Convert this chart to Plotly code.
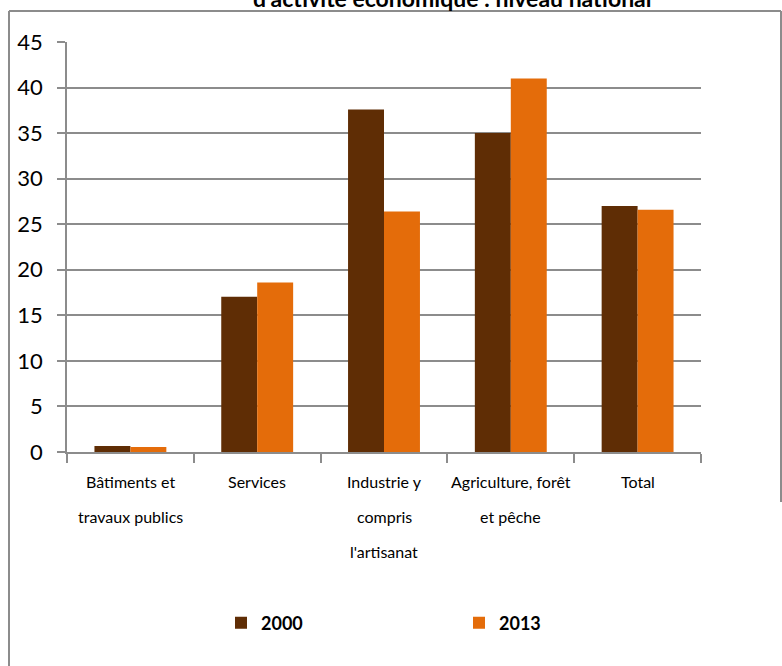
import plotly.graph_objects as go

categories = ["Bâtiments et<br>travaux publics", "Services", "Industrie y<br>compris<br>l'artisanat",
              "Agriculture, forêt<br>et pêche", "Total"]
series_names = ["2000", "2013"]
values_2000 = [0.66, 17.05, 37.6, 35.0, 27.0]
values_2013 = [0.55, 18.6, 26.4, 41.0, 26.6]
y_ticks = [0, 5, 10, 15, 20, 25, 30, 35, 40, 45]
title_text = "d'activité économique : niveau national"

colors = ["#5F2D05", "#E46C0A"]
W, H = 782, 666
L, R, T, B = 67, 701, 42, 452
FONT = "Lato"
GRID = "#8C8C8C"

fig = go.Figure()
for name, vals, col in zip(series_names, [values_2000, values_2013], colors):
    fig.add_trace(go.Bar(name=name, x=categories, y=vals, marker=dict(color=col, line=dict(width=0))))

def px_to_paper_x(px):
    return (px - L) / (R - L)

def px_to_paper_y(py):
    return (B - py) / (B - T)

annotations = []
for cat in categories:
    for i, line in enumerate(cat.split("<br>")):
        annotations.append(dict(x=cat, xref="x", y=0, yref="paper", yanchor="middle",
                                yshift=-(481 - B) - 35 * i, text=line, showarrow=False,
                                font=dict(family=FONT, size=16, color="#000")))
annotations.append(dict(x=px_to_paper_x(452), xref="paper", y=px_to_paper_y(-2), yref="paper",
                        yanchor="middle", text="<b>" + title_text + "</b>", showarrow=False,
                        font=dict(family=FONT, size=23, color="#000")))

shapes = [
    dict(type="line", xref="paper", yref="paper", x0=px_to_paper_x(9), x1=px_to_paper_x(9),
         y0=px_to_paper_y(11), y1=px_to_paper_y(670), line=dict(color=GRID, width=2)),
    dict(type="line", xref="paper", yref="paper", x0=px_to_paper_x(9), x1=px_to_paper_x(781),
         y0=px_to_paper_y(11), y1=px_to_paper_y(11), line=dict(color=GRID, width=2)),
    dict(type="line", xref="paper", yref="paper", x0=px_to_paper_x(781), x1=px_to_paper_x(781),
         y0=px_to_paper_y(11), y1=px_to_paper_y(502), line=dict(color=GRID, width=2)),
]

fig.update_layout(
    width=W, height=H, autosize=False,
    margin=dict(l=L, r=W - R, t=T, b=H - B, pad=0),
    paper_bgcolor="white", plot_bgcolor="white",
    barmode="group", bargap=0.433, bargroupgap=0,
    showlegend=True,
    legend=dict(orientation="h", xref="container", yref="container", x=221 / W, y=1 - 623 / H,
                xanchor="left", yanchor="middle", entrywidth=193, entrywidthmode="pixels",
                font=dict(family=FONT, size=18, color="#000", weight="bold"), traceorder="normal"),
    annotations=annotations,
    shapes=shapes,
    font=dict(family=FONT, color="#000"),
)
fig.update_xaxes(showticklabels=False, tickson="boundaries", ticks="outside", ticklen=9,
                 tickcolor=GRID, tickwidth=1.5, showline=True, linecolor=GRID, linewidth=1.5,
                 showgrid=False, fixedrange=True)
fig.update_yaxes(range=[0, 45], tickvals=y_ticks, ticks="outside", ticklen=8, tickcolor=GRID,
                 tickwidth=1.5, showgrid=True, gridcolor=GRID, gridwidth=1.5, showline=True,
                 linecolor=GRID, linewidth=1.5, zeroline=False, ticklabelstandoff=10,
                 tickfont=dict(family=FONT, size=22, color="#000"))

fig.write_html("out.html", config={"displayModeBar": False},
               post_script="document.body.style.margin='0';")
